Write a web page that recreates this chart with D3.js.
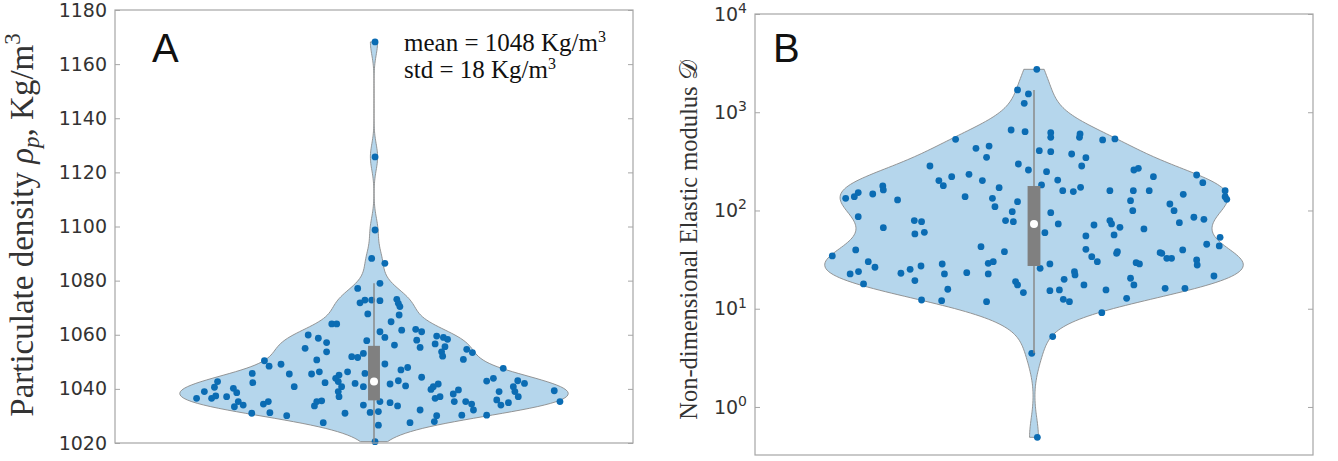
<!DOCTYPE html>
<html>
<head>
<meta charset="utf-8">
<script src="https://cdn.jsdelivr.net/npm/d3@7"></script>
<style>
  body { margin: 0; background: #fff; }
  svg { display: block; }
</style>
</head>
<body>
<svg id="chart" width="1338" height="461"></svg>
<script>
// Panel A: particulate density (Kg/m^3), each dot is [value, jitter]
// jitter is the horizontal offset of the dot, in axis units (-1..1)
const densityDots = [
  [1168.2, 0.004], [1125.7, 0.004], [1098.7, 0.004], [1020.5, 0.004],
  [1088.2, -0.009], [1077.1, -0.063], [1071.8, -0.054], [1072.8, -0.035],
  [1072.8, -0.009], [1067.7, -0.024], [1064.0, -0.163], [1064.0, -0.144],
  [1059.9, -0.254], [1058.7, -0.215], [1057.1, -0.183], [1055.0, -0.266],
  [1053.7, -0.183], [1057.8, -0.028], [1051.9, -0.086], [1051.6, -0.063],
  [1053.1, -0.041], [1050.7, -0.221], [1050.4, -0.423], [1048.4, -0.405],
  [1049.1, -0.359], [1045.7, -0.470], [1042.3, -0.468], [1045.5, -0.327],
  [1045.5, -0.241], [1046.3, -0.211], [1045.1, -0.135], [1046.3, -0.102],
  [1045.7, -0.035], [1042.3, -0.189], [1042.7, -0.138], [1043.9, -0.148],
  [1040.8, -0.308], [1042.0, -0.073], [1040.8, -0.041], [1040.8, -0.125],
  [1039.0, -0.138], [1037.1, -0.135], [1042.7, -0.604], [1040.6, -0.616],
  [1039.0, -0.655], [1040.2, -0.543], [1038.6, -0.530], [1036.5, -0.685],
  [1036.5, -0.627], [1037.4, -0.611], [1037.1, -0.569], [1035.3, -0.524],
  [1034.0, -0.505], [1033.4, -0.539], [1031.0, -0.472], [1034.4, -0.427],
  [1035.3, -0.408], [1031.2, -0.402], [1033.7, -0.230], [1035.3, -0.221],
  [1035.6, -0.202], [1030.1, -0.337], [1027.5, -0.196], [1031.0, -0.112],
  [1034.0, -0.041], [1031.3, -0.015],
  [1086.4, 0.042], [1079.0, 0.023], [1072.6, 0.023], [1073.1, 0.088],
  [1071.6, 0.094], [1070.4, 0.100], [1067.3, 0.097], [1064.8, 0.066],
  [1061.1, 0.023], [1061.7, 0.107], [1059.0, 0.042], [1062.0, 0.161],
  [1061.1, 0.184], [1058.0, 0.165], [1055.3, 0.178], [1056.2, 0.079],
  [1059.5, 0.242], [1059.0, 0.268], [1058.3, 0.284], [1056.6, 0.236],
  [1055.6, 0.274], [1053.7, 0.261], [1052.1, 0.265], [1050.9, 0.345],
  [1054.6, 0.358], [1053.4, 0.380], [1049.2, 0.042], [1047.0, 0.104],
  [1047.9, 0.130], [1044.3, 0.184], [1043.0, 0.094], [1041.8, 0.062],
  [1041.1, 0.122], [1040.8, 0.229], [1041.8, 0.248], [1039.8, 0.220],
  [1035.3, 0.023], [1034.9, 0.062], [1033.7, 0.091], [1036.5, 0.236],
  [1037.1, 0.255], [1032.2, 0.178], [1038.1, 0.306], [1039.6, 0.326],
  [1035.3, 0.310], [1035.3, 0.354], [1034.4, 0.377], [1032.2, 0.384],
  [1030.3, 0.339], [1030.1, 0.242], [1027.9, 0.233], [1027.5, 0.139],
  [1031.6, 0.017], [1026.6, 0.017], [1042.9, 0.435], [1043.9, 0.461],
  [1039.0, 0.483], [1035.9, 0.474], [1034.0, 0.490], [1034.9, 0.519],
  [1047.6, 0.499], [1040.8, 0.538], [1043.0, 0.555], [1042.0, 0.581],
  [1039.0, 0.544], [1037.1, 0.557], [1039.3, 0.696], [1035.3, 0.718],
  [1030.3, 0.435]
];

// Panel B: non-dimensional elastic modulus, each dot is [log10 value, jitter]
const modulusDots = [
  [3.437, 0.010], [3.227, -0.059], [3.186, -0.020], [3.091, -0.035],
  [2.819, -0.082], [2.802, -0.032], [2.724, -0.281], [2.633, -0.208],
  [2.656, -0.161], [2.541, -0.170], [2.453, -0.373], [2.473, -0.056],
  [2.412, -0.020], [2.344, -0.295], [2.368, -0.233], [2.304, -0.341],
  [2.253, -0.325], [2.304, -0.185], [2.232, -0.125], [2.141, -0.247],
  [2.124, -0.149], [2.039, -0.140], [2.090, -0.059], [1.988, -0.078],
  [1.897, -0.102], [1.886, -0.074], [2.249, -0.542], [2.209, -0.540],
  [2.168, -0.578], [2.182, -0.630], [2.141, -0.644], [2.124, -0.675],
  [2.107, -0.489], [1.937, -0.630], [1.825, -0.540], [1.897, -0.429],
  [1.886, -0.403], [1.761, -0.427], [1.778, -0.393], [1.598, -0.639],
  [1.632, -0.190], [1.581, -0.106],
  [2.792, 0.060], [2.745, 0.060], [2.779, 0.165], [2.745, 0.163],
  [2.718, 0.246], [2.728, 0.290], [2.609, 0.019], [2.599, 0.060],
  [2.575, 0.135], [2.538, 0.186], [2.453, 0.171], [2.395, 0.045],
  [2.310, 0.085], [2.260, 0.027], [2.202, 0.103], [2.192, 0.141],
  [2.236, 0.167], [2.202, 0.272], [2.412, 0.358], [2.429, 0.374],
  [2.344, 0.428], [2.202, 0.356], [2.202, 0.413], [2.100, 0.346],
  [1.998, 0.354], [2.361, 0.583], [2.283, 0.605], [2.202, 0.685],
  [2.141, 0.685], [2.114, 0.691], [2.164, 0.535], [2.066, 0.487],
  [1.998, 0.502], [1.876, 0.521], [1.931, 0.573], [1.910, 0.609],
  [1.978, 0.060], [1.863, 0.087], [1.774, 0.039], [1.852, 0.215],
  [1.897, 0.272], [1.863, 0.278], [1.829, 0.308], [1.751, 0.287],
  [1.812, 0.394], [1.741, 0.186], [1.605, 0.186], [1.581, 0.299],
  [1.571, 0.452], [1.598, 0.533], [1.656, 0.619], [1.639, 0.664],
  [1.727, 0.667],
  [1.537, -0.723], [1.479, -0.594], [1.422, -0.570], [1.354, -0.659],
  [1.378, -0.629], [1.252, -0.611], [1.361, -0.477], [1.401, -0.444],
  [1.435, -0.405], [1.286, -0.427], [1.455, -0.329], [1.354, -0.321],
  [1.198, -0.309], [1.367, -0.241], [1.462, -0.164], [1.479, -0.146],
  [1.354, -0.164], [1.276, -0.066], [1.242, -0.059], [1.164, -0.038],
  [1.089, -0.403], [1.082, -0.331], [1.072, -0.170], [0.546, -0.008],
  [1.411, 0.022], [1.456, 0.057], [1.299, 0.108], [1.377, 0.145],
  [1.344, 0.147], [1.242, 0.179], [1.184, 0.057], [1.191, 0.091],
  [1.096, 0.105], [1.072, 0.127], [1.191, 0.258], [1.106, 0.332],
  [1.310, 0.346], [1.242, 0.358], [1.530, 0.207], [1.479, 0.227],
  [1.564, 0.296], [1.469, 0.366], [1.456, 0.378], [1.564, 0.458],
  [1.513, 0.476], [1.513, 0.493], [1.496, 0.583], [1.445, 0.585],
  [1.333, 0.645], [1.208, 0.470], [1.208, 0.541], [0.960, 0.243],
  [0.716, 0.067], [-0.309, 0.012]
];

const densityTicks = [1020, 1040, 1060, 1080, 1100, 1120, 1140, 1160, 1180];
const modulusTicks = [1, 10, 100, 1000, 10000];
const statsLines = [
  { label: 'mean = 1048 Kg/m', sup: '3' },
  { label: 'std = 18 Kg/m', sup: '3' }
];

// Look
const DOT_COLOR = '#0b6cb3';
const VIOLIN_FILL = '#b5d6ec';
const GRAY = '#8a8a8a';
const FRAME_COLOR = '#a6a6a6';
const TEXT_COLOR = '#333';
const VIOLIN_HALF_WIDTH = 0.75;
const BOX_HALF_WIDTH = 0.023;
const VIOLIN_STEPS = 240;

const svg = d3.select('#chart');

const gauss = (u) => Math.exp(-0.5 * u * u) / Math.sqrt(2 * Math.PI);

// plain gaussian kernel density estimate on a grid
function kde(samples, bw, grid) {
  return grid.map((t) => [t, d3.mean(samples, (s) => gauss((t - s) / bw)) / bw]);
}

/*
  One violin panel: kde outline, jittered dots, IQR box, whiskers,
  median marker, framed axes with inward ticks.
  cfg.value maps the kde space back to data values.
*/
function drawViolin(cfg) {
  const g = svg.append('g');
  const x = d3.scaleLinear([-1, 1], [cfg.left, cfg.right]);
  const { y } = cfg;

  const samples = cfg.dots.map((d) => d[0]);
  const [lo, hi] = d3.extent(samples);
  const grid = d3.range(VIOLIN_STEPS + 1).map((i) => lo + ((hi - lo) * i) / VIOLIN_STEPS);
  const density = kde(samples, cfg.bandwidth, grid);
  const half = d3.scaleLinear([0, d3.max(density, (d) => d[1])], [0, VIOLIN_HALF_WIDTH]);

  const area = d3.area()
    .y((d) => y(cfg.value(d[0])))
    .x0((d) => x(-half(d[1])))
    .x1((d) => x(half(d[1])));

  g.append('path')
    .datum(density)
    .attr('d', area)
    .attr('fill', VIOLIN_FILL)
    .attr('stroke', GRAY)
    .attr('stroke-width', 0.9);

  g.append('g')
    .selectAll('circle')
    .data(cfg.dots)
    .join('circle')
    .attr('cx', (d) => x(d[1]))
    .attr('cy', (d) => y(cfg.value(d[0])))
    .attr('r', 3.4)
    .attr('fill', DOT_COLOR);

  // box stats in kde space
  const sorted = samples.slice().sort(d3.ascending);
  const q1 = d3.quantile(sorted, 0.25);
  const med = d3.quantile(sorted, 0.5);
  const q3 = d3.quantile(sorted, 0.75);
  const iqr = q3 - q1;
  const wLo = d3.min(sorted.filter((s) => s >= q1 - 1.5 * iqr));
  const wHi = d3.max(sorted.filter((s) => s <= q3 + cfg.whisker * iqr));

  g.append('line')
    .attr('x1', x(0)).attr('x2', x(0))
    .attr('y1', y(cfg.value(wLo))).attr('y2', y(cfg.value(wHi)))
    .attr('stroke', GRAY)
    .attr('stroke-width', 1.5);

  g.append('rect')
    .attr('x', x(-BOX_HALF_WIDTH))
    .attr('width', x(BOX_HALF_WIDTH) - x(-BOX_HALF_WIDTH))
    .attr('y', y(cfg.value(q3)))
    .attr('height', y(cfg.value(q1)) - y(cfg.value(q3)))
    .attr('fill', '#808080');

  g.append('circle')
    .attr('cx', x(0))
    .attr('cy', y(cfg.value(med)))
    .attr('r', 4)
    .attr('fill', '#fff');

  // axes
  const left = g.append('g')
    .attr('transform', `translate(${cfg.left},0)`)
    .call(d3.axisLeft(y).tickValues(cfg.ticks).tickSize(-5).tickPadding(8).tickFormat(cfg.format));
  const right = g.append('g')
    .attr('transform', `translate(${cfg.right},0)`)
    .call(d3.axisRight(y).tickValues(cfg.ticks).tickSize(-5).tickFormat(''));

  [left, right].forEach((a) => {
    a.select('.domain').remove();
    a.selectAll('line').attr('stroke', FRAME_COLOR);
  });
  left.attr('font-family', 'DejaVu Sans').attr('font-size', 19);
  left.selectAll('text').attr('fill', TEXT_COLOR);

  g.append('rect')
    .attr('x', cfg.left)
    .attr('y', y.range()[1])
    .attr('width', cfg.right - cfg.left)
    .attr('height', y.range()[0] - y.range()[1])
    .attr('fill', 'none')
    .attr('stroke', FRAME_COLOR)
    .attr('stroke-width', 1.2);

  g.append('text')
    .attr('x', cfg.tagX)
    .attr('y', 62)
    .attr('font-family', 'Liberation Sans')
    .attr('font-size', 40)
    .attr('fill', '#111')
    .text(cfg.tag);

  return { g, left };
}

// Panel A
const panelA = drawViolin({
  dots: densityDots,
  left: 115,
  right: 633,
  y: d3.scaleLinear([1020, 1180], [443, 10]),
  value: (v) => v,
  bandwidth: 4.8,
  whisker: 1.5,
  ticks: densityTicks,
  format: d3.format('d'),
  tag: 'A',
  tagX: 152
});

const labelA = panelA.g.append('text')
  .attr('transform', 'translate(33,225) rotate(-90)')
  .attr('text-anchor', 'middle')
  .attr('font-family', 'Liberation Serif')
  .attr('font-size', 33)
  .attr('fill', TEXT_COLOR);
labelA.append('tspan').text('Particulate density ');
labelA.append('tspan').attr('font-style', 'italic').text('ρ');
labelA.append('tspan').attr('font-style', 'italic').attr('font-size', 23).attr('dy', 6).text('p');
labelA.append('tspan').attr('dy', -6).text(', Kg/m');
labelA.append('tspan').attr('font-size', 23).attr('dy', -13).text('3');

panelA.g.append('g')
  .selectAll('text')
  .data(statsLines)
  .join('text')
  .attr('x', 404)
  .attr('y', (d, i) => 51 + i * 27)
  .attr('font-family', 'Liberation Serif')
  .attr('font-size', 25)
  .attr('fill', '#111')
  .each(function (d) {
    const t = d3.select(this);
    t.append('tspan').text(d.label);
    t.append('tspan').attr('font-size', 16).attr('dy', -9).text(d.sup);
  });

// Panel B (log axis, kde taken in log10 space)
const panelB = drawViolin({
  dots: modulusDots,
  left: 755,
  right: 1313,
  y: d3.scaleLog([10 ** -0.489, 1e4], [455, 14]),
  value: (e) => 10 ** e,
  bandwidth: 0.2,
  whisker: 1.25,
  ticks: modulusTicks,
  format: () => '',
  tag: 'B',
  tagX: 773
});

panelB.left.selectAll('.tick text').each(function (d) {
  const t = d3.select(this);
  t.append('tspan').text('10');
  t.append('tspan').attr('dy', '-0.55em').attr('font-size', 14).text(Math.round(Math.log10(d)));
});

const labelB = panelB.g.append('text')
  .attr('transform', 'translate(697,240) rotate(-90)')
  .attr('text-anchor', 'middle')
  .attr('font-family', 'Liberation Serif')
  .attr('font-size', 24.5)
  .attr('fill', TEXT_COLOR);
labelB.append('tspan').text('Non-dimensional Elastic modulus ');
labelB.append('tspan').text('𝒟');
</script>
</body>
</html>
